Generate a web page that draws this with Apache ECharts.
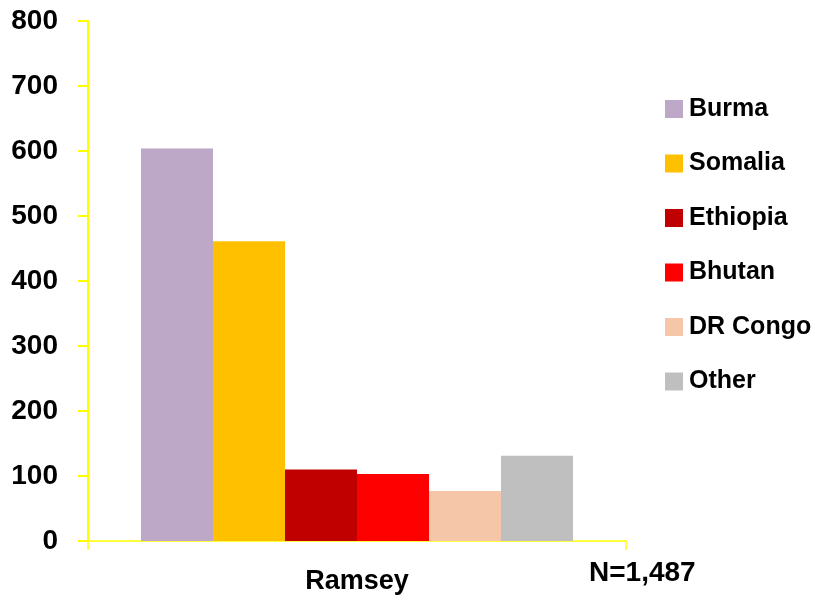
<!DOCTYPE html>
<html>
<head>
<meta charset="utf-8">
<script src="https://cdn.jsdelivr.net/npm/echarts@6/dist/echarts.min.js"></script>
<style>html,body{margin:0;padding:0;background:#fff;}#c{width:815px;height:600px;}</style>
</head>
<body>
<div id="c"></div>
<script>
const categories = ['Ramsey'];
const seriesNames = ['Burma', 'Somalia', 'Ethiopia', 'Bhutan', 'DR Congo', 'Other'];
const seriesValues = [604, 461, 110, 103, 77, 131];
const seriesColors = ['#BEA8C8', '#FFC000', '#C00000', '#FF0000', '#F5C6A8', '#BFBFBF'];
const yTicks = { min: 0, max: 800, interval: 100 };
const noteText = 'N=1,487';

const FONT = '"Liberation Sans", Arial, sans-serif';
const chart = echarts.init(document.getElementById('c'), null, { renderer: 'canvas' });
chart.setOption({
  animation: false,
  backgroundColor: '#fff',
  grid: { left: 88, right: 189, top: 21, bottom: 59, containLabel: false },
  legend: {
    orient: 'vertical',
    left: 660,
    top: 91,
    itemWidth: 18,
    itemHeight: 18,
    itemGap: 28.5,
    icon: 'rect',
    textStyle: { fontFamily: FONT, fontWeight: 'bold', fontSize: 25, color: '#000', lineHeight: 26, padding: [0, 0, 0, 1] },
    data: seriesNames
  },
  xAxis: {
    type: 'category',
    data: categories,
    axisLine: { lineStyle: { color: '#FFFF00', width: 1.5 } },
    axisTick: { show: true, length: 9, lineStyle: { color: '#FFFF00', width: 1.5 } },
    axisLabel: { fontFamily: FONT, fontWeight: 'bold', fontSize: 27, color: '#000', margin: 27 }
  },
  yAxis: {
    type: 'value',
    min: yTicks.min, max: yTicks.max, interval: yTicks.interval,
    splitLine: { show: false },
    axisLine: { show: true, lineStyle: { color: '#FFFF00', width: 2 } },
    axisTick: { show: true, length: 10, lineStyle: { color: '#FFFF00', width: 2 } },
    axisLabel: { fontFamily: FONT, fontWeight: 'bold', fontSize: 28, color: '#000', margin: 30 }
  },
  series: seriesNames.map((n, i) => ({
    name: n,
    type: 'bar',
    data: [seriesValues[i]],
    barGap: '0%',
    barCategoryGap: '19.7%',
    itemStyle: { color: seriesColors[i] }
  })),
  graphic: [{
    type: 'text',
    left: 589,
    top: 559,
    style: { text: noteText, fontFamily: FONT, fontWeight: 'bold', fontSize: 28, fill: '#000' }
  }]
});
</script>
</body>
</html>
